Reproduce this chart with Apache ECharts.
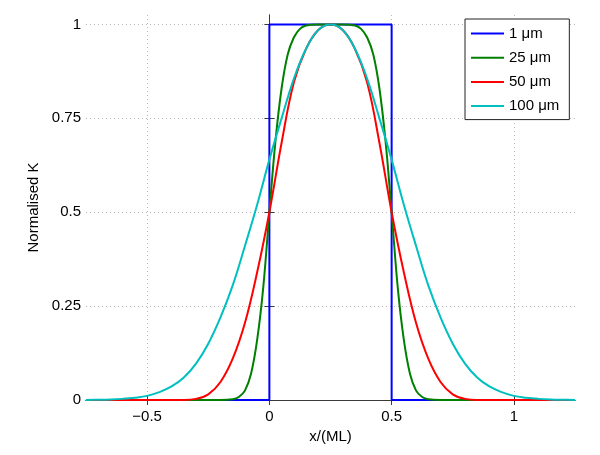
<!DOCTYPE html>
<html>
<head>
<meta charset="utf-8">
<script src="https://cdn.jsdelivr.net/npm/echarts@6/dist/echarts.min.js"></script>
<style>
html,body{margin:0;padding:0;background:#fff;}
#chart{width:600px;height:455px;}
</style>
</head>
<body>
<div id="chart"></div>
<script>
// ---- data ----
const seriesNames = ['1 \u03bcm', '25 \u03bcm', '50 \u03bcm', '100 \u03bcm'];
const xTicks = [-0.5, 0, 0.5, 1];
const yTicks = [0, 0.25, 0.5, 0.75, 1];

const blueX = [-0.75, 0, 0, 0.5, 0.5, 1.25];
const blueY = [0, 0, 1, 1, 0, 0];

const greenX = [-0.75, -0.2, -0.15, -0.125, -0.1, -0.075, -0.05, -0.025, 0, 0.025, 0.05, 0.075, 0.1, 0.125, 0.15, 0.2, 0.25,
                0.3, 0.35, 0.375, 0.4, 0.425, 0.45, 0.475, 0.5, 0.525, 0.55, 0.575, 0.6, 0.625, 0.65, 0.7, 1.25];
const greenY = [0, 0, 0.002, 0.008, 0.025, 0.07, 0.16, 0.3, 0.5, 0.69, 0.83, 0.92, 0.965, 0.988, 0.997, 1, 1,
                1, 0.997, 0.988, 0.965, 0.92, 0.83, 0.69, 0.5, 0.3, 0.16, 0.07, 0.025, 0.008, 0.002, 0, 0];

const wideX = [-0.75, -0.7, -0.65, -0.6, -0.55, -0.5, -0.45, -0.4, -0.35, -0.3, -0.25, -0.2, -0.15, -0.1, -0.05, 0,
               0.05, 0.1, 0.15, 0.2, 0.25, 0.3, 0.35, 0.4, 0.45, 0.5, 0.55, 0.6, 0.65, 0.7, 0.75, 0.8, 0.85, 0.9,
               0.95, 1, 1.05, 1.1, 1.15, 1.2, 1.25];
const redY = [0, 0, 0, 0, 0, 0, 0, 0, 0, 0.003, 0.015, 0.048, 0.11, 0.205, 0.34, 0.5,
              0.685, 0.845, 0.935, 0.985, 1, 0.985, 0.935, 0.845, 0.685, 0.5, 0.34, 0.205, 0.11, 0.048, 0.015, 0.003, 0, 0,
              0, 0, 0, 0, 0, 0, 0];
const cyanY = [0.0003, 0.0006, 0.0013, 0.003, 0.006, 0.011, 0.021, 0.036, 0.06, 0.097, 0.15, 0.22, 0.305, 0.41, 0.52, 0.64,
               0.75, 0.855, 0.935, 0.985, 1, 0.985, 0.935, 0.855, 0.75, 0.64, 0.52, 0.41, 0.305, 0.22, 0.15, 0.097, 0.06, 0.036,
               0.021, 0.011, 0.006, 0.003, 0.0013, 0.0006, 0.0003];

const colors = ['#0000ff', '#008000', '#ff0000', '#00bfbf'];

function pairs(xs, ys) { return xs.map((x, i) => [x, ys[i]]); }

const FONT = 'Liberation Sans, Arial, Helvetica, sans-serif';
const chart = echarts.init(document.getElementById('chart'), null, {renderer: 'canvas'});

const gridLine = {show: true, lineStyle: {color: '#b8b8b8', width: 1, type: [1, 3]}};
const axisLine = {show: true, lineStyle: {color: '#3a3a3a', width: 1}};
const tickStyle = {lineStyle: {color: '#3a3a3a', width: 1}};

function mkLine(name, data, color, smooth) {
  return {
    name: name, type: 'line', data: data, xAxisIndex: 0, yAxisIndex: 0,
    symbol: 'none', smooth: smooth,
    lineStyle: {color: color, width: 2}, itemStyle: {color: color},
    animation: false
  };
}

chart.setOption({
  animation: false,
  backgroundColor: '#fff',
  textStyle: {fontFamily: FONT},
  grid: {left: 86, right: 25, top: 15, bottom: 55, containLabel: false},
  legend: {
    data: seriesNames.map((n, i) => ({name: n, icon: 'rect', itemStyle: {color: colors[i]}})),
    orient: 'vertical', left: 465, top: 19,
    itemWidth: 33, itemHeight: 2, itemGap: 9.2,
    padding: [7, 10, 6, 6],
    backgroundColor: '#fff', borderColor: '#222', borderWidth: 1, borderRadius: 0,
    textStyle: {fontFamily: FONT, fontSize: 15, color: '#000', lineHeight: 14}
  },
  xAxis: [{
    type: 'value', min: -0.75, max: 1.25, position: 'bottom',
    name: 'x/(ML)', nameLocation: 'middle', nameGap: 24,
    nameTextStyle: {fontFamily: FONT, fontSize: 15, color: '#000'},
    axisLine: axisLine,
    axisTick: Object.assign({show: true, inside: true, length: 5, customValues: xTicks}, tickStyle),
    axisLabel: {show: true, customValues: xTicks, margin: 9, fontSize: 15, color: '#000', fontFamily: FONT,
                formatter: v => String(v).replace('-', '\u2212')},
    splitLine: gridLine
  }, {
    type: 'value', min: -0.75, max: 1.25, position: 'top',
    axisLine: axisLine,
    axisTick: Object.assign({show: true, inside: true, length: 5, customValues: xTicks}, tickStyle),
    axisLabel: {show: false},
    splitLine: {show: false}
  }],
  yAxis: [{
    type: 'value', min: 0, max: 1.025, position: 'left',
    name: 'Normalised K', nameLocation: 'middle', nameGap: 43,
    nameTextStyle: {fontFamily: FONT, fontSize: 15, color: '#000'},
    axisLine: axisLine,
    axisTick: Object.assign({show: true, inside: true, length: 5, customValues: yTicks}, tickStyle),
    axisLabel: {show: true, customValues: yTicks, margin: 5, fontSize: 15, color: '#000', fontFamily: FONT},
    splitLine: gridLine
  }, {
    type: 'value', min: 0, max: 1.025, position: 'right',
    axisLine: axisLine,
    axisTick: Object.assign({show: true, inside: true, length: 5, customValues: yTicks}, tickStyle),
    axisLabel: {show: false},
    splitLine: {show: false}
  }],
  series: [
    mkLine(seriesNames[0], pairs(blueX, blueY), colors[0], false),
    mkLine(seriesNames[1], pairs(greenX, greenY), colors[1], 0.4),
    mkLine(seriesNames[2], pairs(wideX, redY), colors[2], 0.4),
    mkLine(seriesNames[3], pairs(wideX, cyanY), colors[3], 0.4)
  ]
});
</script>
</body>
</html>
